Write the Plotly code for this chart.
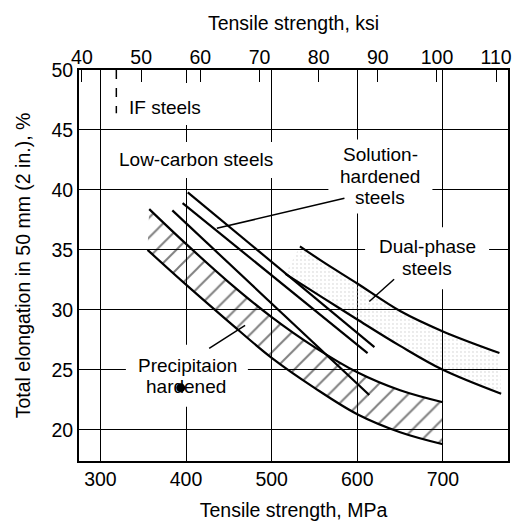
import plotly.graph_objects as go

# ---------------- data ----------------
mpa_ticks = [300, 400, 500, 600, 700]
ksi_ticks = [40, 50, 60, 70, 80, 90, 100, 110]
elong_ticks = [20, 25, 30, 35, 40, 45, 50]

# Precipitation hardened (hatched band)
ph_upper_x = [357, 400, 450, 500, 550, 600, 650, 700]
ph_upper_y = [38.4, 35.5, 32.3, 29.4, 26.9, 24.8, 23.3, 22.3]
ph_lower_x = [355, 400, 450, 500, 550, 600, 650, 700]
ph_lower_y = [35.0, 32.1, 29.0, 26.0, 23.5, 21.3, 19.8, 18.8]

# Dual-phase steels (stippled band)
dp_upper_x = [533, 560, 600, 650, 700, 766]
dp_upper_y = [35.3, 34.0, 32.2, 29.9, 28.2, 26.4]
dp_lower_x = [516, 560, 600, 650, 700, 768]
dp_lower_y = [33.0, 31.0, 29.2, 27.0, 25.0, 23.0]

# Solution-hardened steels (straight lines)
sh_lines = {
    "sh_a": ([402, 620], [39.8, 26.9]),
    "sh_b": ([396, 612], [38.9, 26.4]),
    "sh_c": ([384, 614], [38.3, 22.9]),
}

# IF steels dashed boundary
if_line_x = [318.6, 318.6]
if_line_y = [50, 46.4]

# leader lines for labels
leader_sh_x, leader_sh_y = [436, 585], [36.8, 39.3]
leader_dp_x, leader_dp_y = [614, 643], [30.7, 32.55]
leader_ph_x, leader_ph_y = [427, 469], [26.8, 28.7]

# ink blot of the scanned original (over "hardened")
blot_x, blot_y = [393.8], [23.5]

FONT = "Liberation Sans, Arial, Helvetica, sans-serif"
FS = 19.5
FS_LBL = 19

fig = go.Figure()

# hatched band fill
fig.add_trace(go.Scatter(
    x=ph_upper_x + ph_lower_x[::-1], y=ph_upper_y + ph_lower_y[::-1],
    fill="toself", mode="lines", line=dict(width=0, color="rgba(0,0,0,0)"),
    fillcolor="rgba(255,255,255,0)",
    fillpattern=dict(shape="/", size=14, solidity=0.14, fgcolor="black", bgcolor="rgba(255,255,255,0)"),
    hoverinfo="skip", showlegend=False))
# stippled band fill
fig.add_trace(go.Scatter(
    x=dp_upper_x + dp_lower_x[::-1], y=dp_upper_y + dp_lower_y[::-1],
    fill="toself", mode="lines", line=dict(width=0, color="rgba(0,0,0,0)"),
    fillcolor="rgba(255,255,255,0)",
    fillpattern=dict(shape=".", size=4, solidity=0.16, fgcolor="#c6c6c6", bgcolor="rgba(255,255,255,0)"),
    hoverinfo="skip", showlegend=False))

line_style = dict(color="black", width=2.2)
for xs, ys in [(ph_upper_x, ph_upper_y), (ph_lower_x, ph_lower_y),
               (dp_upper_x, dp_upper_y), (dp_lower_x, dp_lower_y)]:
    fig.add_trace(go.Scatter(x=xs, y=ys, mode="lines", line=dict(shape="spline", **line_style),
                             hoverinfo="skip", showlegend=False))
for name, (xs, ys) in sh_lines.items():
    fig.add_trace(go.Scatter(x=xs, y=ys, mode="lines", line=line_style, name=name,
                             hoverinfo="skip", showlegend=False))

fig.add_trace(go.Scatter(x=if_line_x, y=if_line_y, mode="lines",
                         line=dict(color="black", width=1.5, dash="dash"),
                         hoverinfo="skip", showlegend=False))
for xs, ys in [(leader_sh_x, leader_sh_y), (leader_dp_x, leader_dp_y), (leader_ph_x, leader_ph_y)]:
    fig.add_trace(go.Scatter(x=xs, y=ys, mode="lines", line=dict(color="black", width=1.5),
                             hoverinfo="skip", showlegend=False))
fig.add_trace(go.Scatter(x=blot_x, y=blot_y, mode="markers",
                         marker=dict(color="black", size=9, symbol="circle"),
                         hoverinfo="skip", showlegend=False))

# helper (invisible) trace so that the ksi axis is drawn
fig.add_trace(go.Scatter(x=ksi_ticks, y=[None] * len(ksi_ticks), xaxis="x2", mode="lines",
                         hoverinfo="skip", showlegend=False))


def patch(x, y, w, h):
    """white patch above grid lines, below data: the gaps of the grid behind labels"""
    fig.add_shape(type="rect", xref="x", yref="y", layer="between",
                  xsizemode="pixel", ysizemode="pixel", xanchor=x, yanchor=y,
                  x0=-w / 2, x1=w / 2, y0=-h / 2, y1=h / 2,
                  fillcolor="white", line=dict(width=0))


def text(t, x, y):
    fig.add_annotation(x=x, y=y, xref="x", yref="y", text=t, showarrow=False,
                       font=dict(family=FONT, size=FS_LBL, color="black"),
                       xanchor="center", yanchor="middle", borderpad=0)


# background patches
patch(375.4, 47.17, 80, 42)
patch(411.5, 42.5, 168, 36)
patch(627, 41.13, 104, 74)
patch(681.5, 34.3, 124, 62)
patch(401.0, 24.5, 122, 62)

# texts
text("IF steels", 375.4, 46.88)
text("Low-carbon steels", 411.5, 42.5)
text("Solution-", 627, 42.92)
text("hardened", 627, 41.13)
text("steels", 627, 39.34)
text("Dual-phase", 681.5, 35.25)
text("steels", 681.5, 33.45)
text("Precipitaion", 401.5, 25.4)
text("hardened", 400.5, 23.61)

axis_font = dict(family=FONT, size=FS, color="black")
fig.update_layout(
    width=516, height=525,
    margin=dict(l=79, r=4, t=70, b=64),
    paper_bgcolor="white", plot_bgcolor="white",
    font=axis_font,
    xaxis=dict(range=[275, 776], tickvals=mpa_ticks, ticktext=[str(v) for v in mpa_ticks],
               showgrid=True, gridcolor="black", gridwidth=1.4, zeroline=False,
               showline=True, linecolor="black", linewidth=2, mirror=True, ticks="",
               tickfont=axis_font,
               title=dict(text="Tensile strength, MPa", font=axis_font, standoff=14)),
    xaxis2=dict(range=[39.5, 112], overlaying="x", side="top", anchor="y",
                tickvals=ksi_ticks, ticktext=[str(v) for v in ksi_ticks],
                showgrid=False, zeroline=False, showline=True, linecolor="black", linewidth=2,
                ticks="inside", ticklen=12, tickwidth=1.4, tickcolor="black",
                tickfont=axis_font, ticklabelstandoff=-4,
                title=dict(text="Tensile strength, ksi", font=axis_font, standoff=10)),
    yaxis=dict(range=[17.4, 50], tickvals=elong_ticks, ticktext=[str(v) for v in elong_ticks],
               showgrid=True, gridcolor="black", gridwidth=1.4, zeroline=False,
               showline=True, linecolor="black", linewidth=2, mirror=True, ticks="",
               tickfont=axis_font,
               title=dict(text="Total elongation in 50 mm (2 in.), %", font=axis_font, standoff=16)),
)

fig.write_html("out.html")
